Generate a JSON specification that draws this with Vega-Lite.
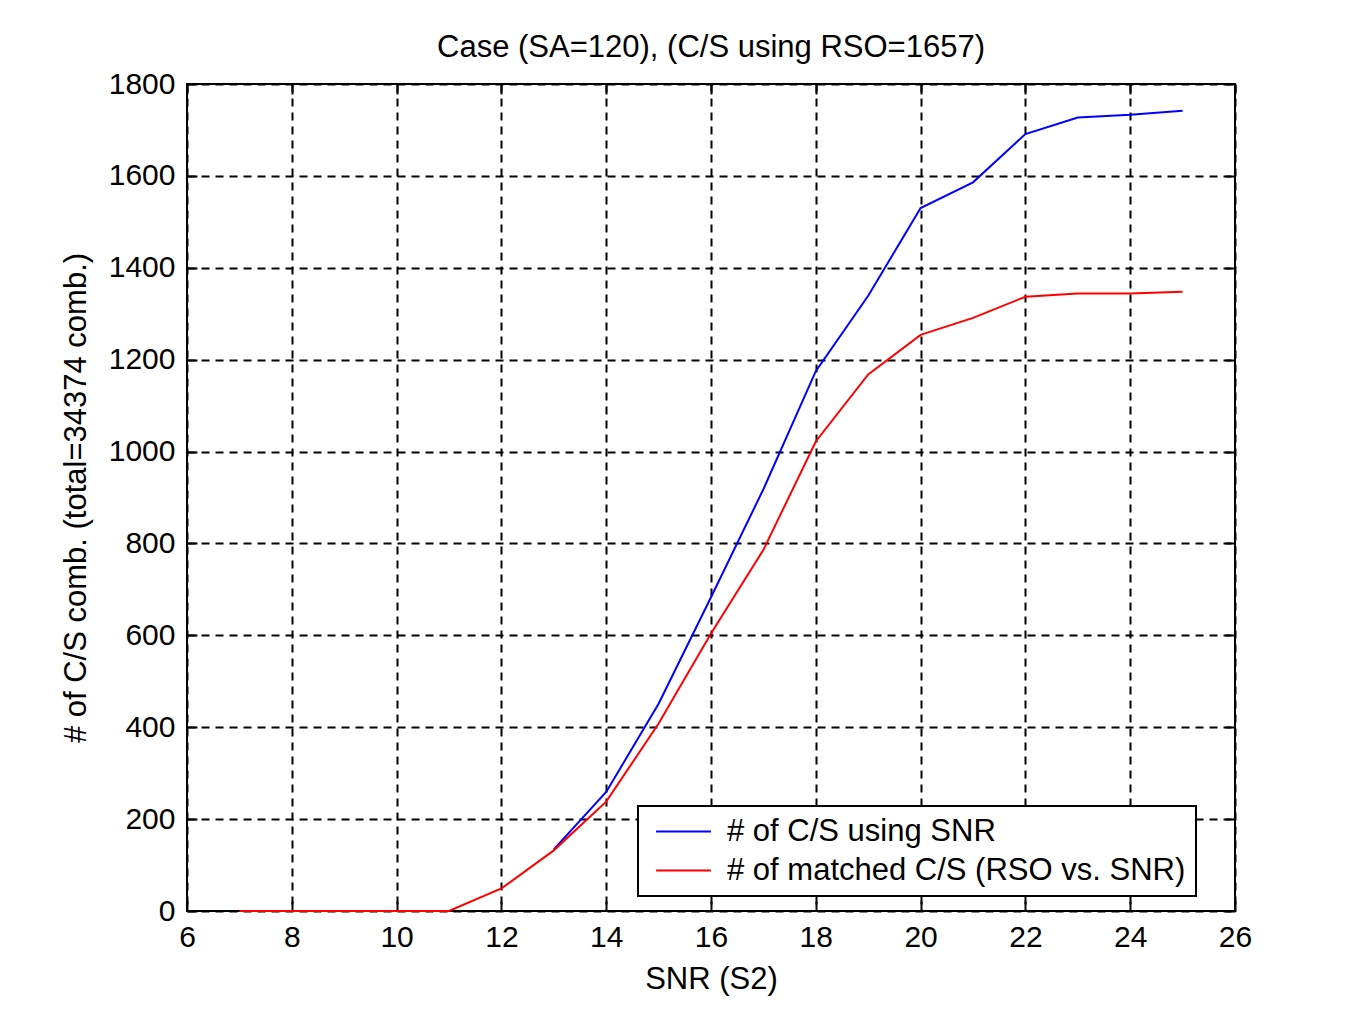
{
  "$schema": "https://vega.github.io/schema/vega-lite/v6.json",
  "width": 1048,
  "height": 827,
  "autosize": {"type": "none"},
  "padding": {"left": 187, "top": 84, "right": 114, "bottom": 104},
  "background": "white",
  "config": {
    "font": "Liberation Sans",
    "view": {"stroke": "black", "strokeWidth": 2},
    "legend": {"strokeWidth": 2},
    "axis": {
      "labelFont": "Liberation Sans",
      "titleFont": "Liberation Sans",
      "labelColor": "black",
      "titleColor": "black",
      "titleFontWeight": "normal",
      "labelFontSize": 30,
      "titleFontSize": 31,
      "domain": false,
      "tickColor": "black",
      "tickWidth": 2,
      "tickSize": -10,
      "gridColor": "black",
      "gridOpacity": 1,
      "gridWidth": 2,
      "gridDash": [8, 6]
    }
  },
  "title": {
    "text": "Case (SA=120), (C/S using RSO=1657)",
    "fontSize": 31,
    "fontWeight": "normal",
    "font": "Liberation Sans",
    "color": "black",
    "offset": 5
  },
  "data": {
    "values": [
      {"snr": 13, "series": "# of C/S using SNR", "count": 134},
      {"snr": 14, "series": "# of C/S using SNR", "count": 259},
      {"snr": 15, "series": "# of C/S using SNR", "count": 451},
      {"snr": 16, "series": "# of C/S using SNR", "count": 683},
      {"snr": 17, "series": "# of C/S using SNR", "count": 918},
      {"snr": 18, "series": "# of C/S using SNR", "count": 1175},
      {"snr": 19, "series": "# of C/S using SNR", "count": 1339},
      {"snr": 20, "series": "# of C/S using SNR", "count": 1530},
      {"snr": 21, "series": "# of C/S using SNR", "count": 1586},
      {"snr": 22, "series": "# of C/S using SNR", "count": 1691},
      {"snr": 23, "series": "# of C/S using SNR", "count": 1727},
      {"snr": 24, "series": "# of C/S using SNR", "count": 1733},
      {"snr": 25, "series": "# of C/S using SNR", "count": 1742},
      {"snr": 7, "series": "# of matched C/S (RSO vs. SNR)", "count": 0},
      {"snr": 8, "series": "# of matched C/S (RSO vs. SNR)", "count": 0},
      {"snr": 9, "series": "# of matched C/S (RSO vs. SNR)", "count": 0},
      {"snr": 10, "series": "# of matched C/S (RSO vs. SNR)", "count": 0},
      {"snr": 11, "series": "# of matched C/S (RSO vs. SNR)", "count": 0},
      {"snr": 12, "series": "# of matched C/S (RSO vs. SNR)", "count": 49},
      {"snr": 13, "series": "# of matched C/S (RSO vs. SNR)", "count": 132},
      {"snr": 14, "series": "# of matched C/S (RSO vs. SNR)", "count": 238},
      {"snr": 15, "series": "# of matched C/S (RSO vs. SNR)", "count": 408},
      {"snr": 16, "series": "# of matched C/S (RSO vs. SNR)", "count": 604},
      {"snr": 17, "series": "# of matched C/S (RSO vs. SNR)", "count": 786},
      {"snr": 18, "series": "# of matched C/S (RSO vs. SNR)", "count": 1022},
      {"snr": 19, "series": "# of matched C/S (RSO vs. SNR)", "count": 1168},
      {"snr": 20, "series": "# of matched C/S (RSO vs. SNR)", "count": 1254},
      {"snr": 21, "series": "# of matched C/S (RSO vs. SNR)", "count": 1291},
      {"snr": 22, "series": "# of matched C/S (RSO vs. SNR)", "count": 1337},
      {"snr": 23, "series": "# of matched C/S (RSO vs. SNR)", "count": 1344},
      {"snr": 24, "series": "# of matched C/S (RSO vs. SNR)", "count": 1344},
      {"snr": 25, "series": "# of matched C/S (RSO vs. SNR)", "count": 1348}
    ]
  },
  "layer": [
    {
      "mark": {"type": "line", "strokeWidth": 2, "clip": false},
      "encoding": {
        "x": {
          "field": "snr", "type": "quantitative",
          "scale": {"domain": [6, 26], "nice": false, "zero": false},
          "axis": {"orient": "bottom", "title": "SNR (S2)", "values": [6, 8, 10, 12, 14, 16, 18, 20, 22, 24, 26], "labelPadding": 21, "titlePadding": 12, "labelFlush": false}
        },
        "y": {
          "field": "count", "type": "quantitative",
          "scale": {"domain": [0, 1800], "nice": false},
          "axis": {"orient": "left", "title": "# of C/S comb. (total=34374 comb.)", "format": "d", "values": [0, 200, 400, 600, 800, 1000, 1200, 1400, 1600, 1800], "labelPadding": 22, "titlePadding": 16, "labelFlush": false}
        },
        "color": {
          "field": "series", "type": "nominal",
          "scale": {"domain": ["# of C/S using SNR", "# of matched C/S (RSO vs. SNR)"], "range": ["#0000ff", "#ff0000"]},
          "legend": {
            "title": null,
            "orient": "none",
            "legendX": 451,
            "legendY": 722,
            "symbolType": "M-1.96,0H1.96",
            "symbolSize": 784,
            "symbolStrokeWidth": 2,
            "symbolOffset": 20,
            "labelFontSize": 31,
            "labelFont": "Liberation Sans",
            "labelColor": "black",
            "labelOffset": 28,
            "labelLimit": 700,
            "strokeColor": "black",
            "fillColor": "white",
            "padding": 10,
            "rowPadding": 7,
            "offset": 0
          }
        },
        "order": {"field": "series", "type": "nominal"}
      }
    },
    {
      "mark": {"type": "line", "opacity": 0},
      "encoding": {
        "x": {
          "field": "snr", "type": "quantitative",
          "scale": {"domain": [6, 26], "nice": false, "zero": false},
          "axis": {"orient": "top", "title": null, "labels": false, "grid": false, "values": [6, 8, 10, 12, 14, 16, 18, 20, 22, 24, 26]}
        },
        "y": {
          "field": "count", "type": "quantitative",
          "scale": {"domain": [0, 1800], "nice": false},
          "axis": {"orient": "right", "title": null, "labels": false, "grid": false, "values": [0, 200, 400, 600, 800, 1000, 1200, 1400, 1600, 1800]}
        },
        "detail": {"field": "series", "type": "nominal"}
      }
    }
  ],
  "resolve": {"axis": {"x": "independent", "y": "independent"}}
}
